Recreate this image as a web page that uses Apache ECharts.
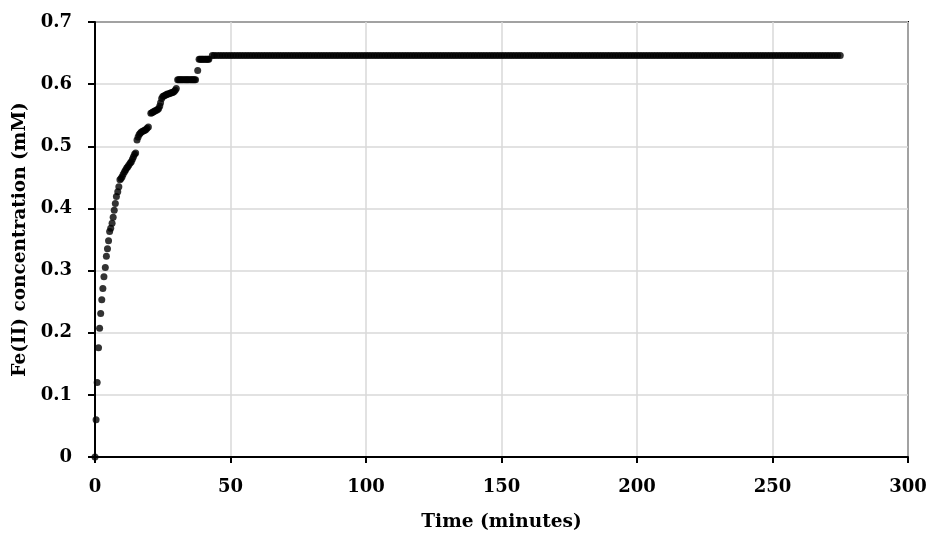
<!DOCTYPE html>
<html>
<head>
<meta charset="utf-8">
<script src="https://cdn.jsdelivr.net/npm/echarts@6/dist/echarts.min.js"></script>
<style>
  html, body { margin: 0; padding: 0; background: #fff; }
  #chart { width: 930px; height: 537px; }
</style>
</head>
<body>
<div id="chart"></div>
<script>
// Axis settings
const xTicks = [0, 50, 100, 150, 200, 250, 300];
const yTicks = [0, 0.1, 0.2, 0.3, 0.4, 0.5, 0.6, 0.7];
const xTitle = 'Time (minutes)';
const yTitle = 'Fe(II) concentration (mM)';

// Data: [time (min), Fe(II) (mM)]
const rise = [[0,0],[0.4,0.060],[0.8,0.120],[1.3,0.176],[1.7,0.207],[2.1,0.231],[2.5,0.253],[2.9,0.271],[3.3,0.290],[3.8,0.305],
  [4.2,0.323],[4.6,0.335],[5.0,0.348],[5.4,0.363],[5.8,0.368],[6.3,0.376],[6.7,0.386],[7.1,0.397],[7.5,0.408],[7.9,0.419],
  [8.4,0.427],[8.8,0.435],[9.2,0.446],[9.6,0.448],[10.0,0.451],[10.4,0.455],[10.9,0.459],[11.3,0.462],[11.7,0.465],[12.1,0.467],
  [12.5,0.470],[13.0,0.473],[13.4,0.475],[13.8,0.479],[14.2,0.483],[14.6,0.487],[15.0,0.489],[15.5,0.510],[15.9,0.515],[16.3,0.519],
  [16.7,0.521],[17.1,0.523],[17.6,0.524],[18.0,0.525],[18.4,0.526],[18.8,0.527],[19.2,0.529],[19.7,0.531],[20.6,0.553],[21.0,0.554],
  [21.4,0.555],[21.8,0.556],[22.2,0.557],[22.7,0.558],[23.1,0.559],[23.5,0.561],[23.9,0.565],[24.2,0.570],[24.6,0.577],[25.0,0.580],
  [25.4,0.581],[25.9,0.582],[26.3,0.583],[26.7,0.584],[27.1,0.584],[27.6,0.585],[28.0,0.586],[28.4,0.586],[28.8,0.587],[29.2,0.588],
  [29.6,0.590],[30.0,0.593]];
const step1 = [[30.5,0.607],[30.9,0.607],[31.3,0.607],[31.7,0.607],[32.1,0.607],[32.5,0.607],[33.0,0.607],[33.4,0.607],[33.8,0.607],
  [34.2,0.607],[34.6,0.607],[35.1,0.607],[35.5,0.607],[35.9,0.607],[36.3,0.607],[36.7,0.607],[37.1,0.607],[37.9,0.622]];
const step2 = [[38.4,0.640],[38.8,0.640],[39.2,0.640],[39.6,0.640],[40.0,0.640],[40.5,0.640],[40.9,0.640],[41.3,0.640],[41.7,0.640],[42.0,0.640]];
const plateau = [[43.3,0.646],
  [44,0.646],[45,0.646],[46,0.646],[47,0.646],[48,0.646],[49,0.646],[50,0.646],[51,0.646],[52,0.646],[53,0.646],
  [54,0.646],[55,0.646],[56,0.646],[57,0.646],[58,0.646],[59,0.646],[60,0.646],[61,0.646],[62,0.646],[63,0.646],
  [64,0.646],[65,0.646],[66,0.646],[67,0.646],[68,0.646],[69,0.646],[70,0.646],[71,0.646],[72,0.646],[73,0.646],
  [74,0.646],[75,0.646],[76,0.646],[77,0.646],[78,0.646],[79,0.646],[80,0.646],[81,0.646],[82,0.646],[83,0.646],
  [84,0.646],[85,0.646],[86,0.646],[87,0.646],[88,0.646],[89,0.646],[90,0.646],[91,0.646],[92,0.646],[93,0.646],
  [94,0.646],[95,0.646],[96,0.646],[97,0.646],[98,0.646],[99,0.646],[100,0.646],[101,0.646],[102,0.646],[103,0.646],
  [104,0.646],[105,0.646],[106,0.646],[107,0.646],[108,0.646],[109,0.646],[110,0.646],[111,0.646],[112,0.646],[113,0.646],
  [114,0.646],[115,0.646],[116,0.646],[117,0.646],[118,0.646],[119,0.646],[120,0.646],[121,0.646],[122,0.646],[123,0.646],
  [124,0.646],[125,0.646],[126,0.646],[127,0.646],[128,0.646],[129,0.646],[130,0.646],[131,0.646],[132,0.646],[133,0.646],
  [134,0.646],[135,0.646],[136,0.646],[137,0.646],[138,0.646],[139,0.646],[140,0.646],[141,0.646],[142,0.646],[143,0.646],
  [144,0.646],[145,0.646],[146,0.646],[147,0.646],[148,0.646],[149,0.646],[150,0.646],[151,0.646],[152,0.646],[153,0.646],
  [154,0.646],[155,0.646],[156,0.646],[157,0.646],[158,0.646],[159,0.646],[160,0.646],[161,0.646],[162,0.646],[163,0.646],
  [164,0.646],[165,0.646],[166,0.646],[167,0.646],[168,0.646],[169,0.646],[170,0.646],[171,0.646],[172,0.646],[173,0.646],
  [174,0.646],[175,0.646],[176,0.646],[177,0.646],[178,0.646],[179,0.646],[180,0.646],[181,0.646],[182,0.646],[183,0.646],
  [184,0.646],[185,0.646],[186,0.646],[187,0.646],[188,0.646],[189,0.646],[190,0.646],[191,0.646],[192,0.646],[193,0.646],
  [194,0.646],[195,0.646],[196,0.646],[197,0.646],[198,0.646],[199,0.646],[200,0.646],[201,0.646],[202,0.646],[203,0.646],
  [204,0.646],[205,0.646],[206,0.646],[207,0.646],[208,0.646],[209,0.646],[210,0.646],[211,0.646],[212,0.646],[213,0.646],
  [214,0.646],[215,0.646],[216,0.646],[217,0.646],[218,0.646],[219,0.646],[220,0.646],[221,0.646],[222,0.646],[223,0.646],
  [224,0.646],[225,0.646],[226,0.646],[227,0.646],[228,0.646],[229,0.646],[230,0.646],[231,0.646],[232,0.646],[233,0.646],
  [234,0.646],[235,0.646],[236,0.646],[237,0.646],[238,0.646],[239,0.646],[240,0.646],[241,0.646],[242,0.646],[243,0.646],
  [244,0.646],[245,0.646],[246,0.646],[247,0.646],[248,0.646],[249,0.646],[250,0.646],[251,0.646],[252,0.646],[253,0.646],
  [254,0.646],[255,0.646],[256,0.646],[257,0.646],[258,0.646],[259,0.646],[260,0.646],[261,0.646],[262,0.646],[263,0.646],
  [264,0.646],[265,0.646],[266,0.646],[267,0.646],[268,0.646],[269,0.646],[270,0.646],[271,0.646],[272,0.646],[273,0.646],
  [274,0.646],[275,0.646]];

const allPoints = rise.concat(step1, step2, plateau);

const FONT = '"DejaVu Serif", "Liberation Serif", serif';
const chart = echarts.init(document.getElementById('chart'), null, { renderer: 'canvas' });
chart.setOption({
  animation: false,
  backgroundColor: '#ffffff',
  grid: { left: 95, right: 22, top: 22, bottom: 80, show: true, borderColor: '#000', borderWidth: 2, backgroundColor: 'transparent' },
  xAxis: {
    type: 'value', min: xTicks[0], max: xTicks[xTicks.length - 1], interval: 50,
    name: xTitle, nameLocation: 'middle', nameGap: 56,
    nameTextStyle: { fontFamily: FONT, fontWeight: 'bold', fontSize: 18.5, color: '#000' },
    axisLine: { show: true, onZero: false, lineStyle: { color: '#000', width: 2 } },
    axisTick: { show: true, inside: false, length: 6, lineStyle: { color: '#000', width: 2 } },
    axisLabel: { fontFamily: FONT, fontWeight: 'bold', fontSize: 18, color: '#000', margin: 21 },
    splitLine: { show: true, lineStyle: { color: '#d9d9d9', width: 1.5 } }
  },
  yAxis: {
    type: 'value', min: yTicks[0], max: yTicks[yTicks.length - 1], interval: 0.1,
    name: yTitle, nameLocation: 'middle', nameGap: 60, nameRotate: 90,
    nameTextStyle: { fontFamily: FONT, fontWeight: 'bold', fontSize: 18.5, color: '#000' },
    axisLine: { show: true, onZero: false, lineStyle: { color: '#000', width: 2 } },
    axisTick: { show: true, inside: false, length: 7, lineStyle: { color: '#000', width: 2 } },
    axisLabel: { fontFamily: FONT, fontWeight: 'bold', fontSize: 18, color: '#000', margin: 23,
      padding: [6, 0, 0, 0],
      formatter: v => (Math.round(v * 10) / 10).toString() },
    splitLine: { show: true, lineStyle: { color: '#d9d9d9', width: 1.5 } }
  },
  series: [{
    type: 'scatter',
    data: allPoints,
    symbol: 'circle',
    symbolSize: 7,
    itemStyle: { color: '#000' },
    z: 5
  }]
});
</script>
</body>
</html>
